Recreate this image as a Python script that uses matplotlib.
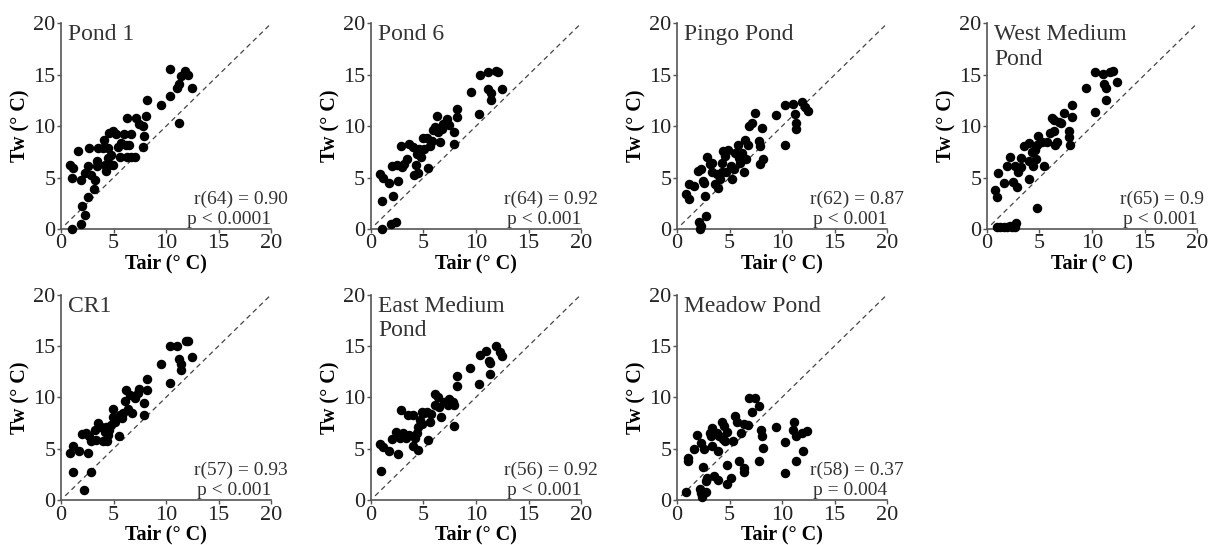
import matplotlib.pyplot as plt

plt.rcParams['font.family'] = ['Liberation Serif', 'DejaVu Serif']

# Pond 1
pond1_tair = [1.0, 1.95, 2.26, 2.0, 2.6, 3.1, 0.85, 1.1, 1.0, 1.6, 1.9, 2.26, 2.6, 2.7, 2.9,
              3.2, 3.4, 3.4, 3.5, 4.0, 4.1, 4.2, 4.3, 4.5, 4.5, 4.6, 4.6, 4.8, 4.9, 4.9,
              5.2, 5.4, 5.6, 5.7, 6.0, 6.2, 6.3, 6.3, 6.5, 6.7, 6.7, 7.0, 7.1, 7.4, 7.8,
              7.8, 7.9, 8.1, 8.2, 9.5, 10.4, 10.4, 11.05, 11.2, 11.2, 11.4, 11.8, 12.1, 12.5]
pond1_tw = [0.0, 0.5, 1.4, 2.2, 3.1, 3.9, 6.2, 5.9, 5.0, 7.6, 4.75, 5.4, 6.1, 7.9, 5.25,
            4.75, 6.1, 6.6, 7.9, 7.9, 8.7, 6.2, 5.6, 7.9, 6.9, 6.2, 9.3, 7.2, 9.5, 6.2,
            9.2, 8.0, 7.0, 8.4, 9.2, 8.2, 7.0, 10.8, 8.2, 7.0, 9.2, 7.0, 10.8, 10.2, 10.0,
            8.0, 9.0, 11.0, 12.5, 12.1, 12.9, 15.6, 13.7, 14.1, 10.3, 14.9, 15.4, 15.0, 13.7]

# Pond 6
pond6_tair = [1.07, 1.95, 2.37, 1.07, 2.14, 0.9, 1.2, 1.7, 2.0, 2.6, 2.5, 2.85, 3.0, 3.2, 3.4,
              3.6, 4.0, 4.15, 4.3, 4.4, 4.5, 4.6, 4.8, 5.0, 5.1, 5.3, 5.45, 5.6, 5.8, 5.9,
              6.1, 6.25, 6.4, 6.6, 6.75, 6.9, 7.2, 7.4, 7.9, 7.9, 8.2, 8.2, 9.5, 10.3, 10.4,
              11.1, 11.1, 11.4, 11.4, 11.9, 12.1, 12.5]
pond6_tw = [0.0, 0.5, 0.65, 2.75, 3.25, 5.35, 5.0, 4.45, 6.1, 4.7, 6.2, 8.1, 6.0, 6.35, 6.8,
            8.3, 7.95, 5.2, 6.2, 7.3, 5.4, 7.8, 7.0, 8.8, 7.8, 8.8, 5.9, 8.1, 8.6, 9.6,
            9.9, 11.0, 9.4, 8.45, 9.75, 10.25, 10.7, 10.1, 9.4, 8.3, 11.7, 10.9, 13.3, 11.2, 15.0,
            15.3, 13.6, 13.2, 12.5, 15.35, 15.3, 13.6]

# Pingo Pond
pingo_tair = [2.16, 2.06, 2.3, 2.8, 0.87, 1.1, 1.1, 1.6, 2.0, 2.26, 2.5, 2.6, 2.7, 2.9, 3.1,
              3.3, 3.35, 3.6, 3.8, 3.9, 4.1, 4.3, 4.3, 4.4, 4.6, 4.7, 4.9, 5.1, 5.2, 5.4,
              5.55, 5.8, 5.9, 6.0, 6.2, 6.35, 6.45, 6.6, 6.8, 6.9, 7.1, 7.4, 7.8, 7.9, 7.9,
              8.1, 8.2, 9.4, 10.3, 10.3, 11.0, 11.2, 11.35, 11.35, 11.9, 12.15, 12.5]
pingo_tw = [0.0, 0.65, 0.3, 1.3, 3.4, 2.9, 4.35, 4.2, 5.65, 5.8, 4.7, 4.5, 3.2, 7.0, 6.3,
            5.5, 6.45, 4.35, 5.3, 4.0, 4.85, 5.5, 6.45, 7.55, 7.1, 5.5, 7.7, 6.1, 4.85, 5.8,
            7.4, 8.2, 6.9, 6.45, 7.4, 5.5, 8.7, 6.8, 8.2, 10.0, 10.3, 11.3, 8.55, 8.1, 6.3,
            9.8, 6.8, 11.1, 12.1, 8.2, 12.2, 11.2, 10.3, 9.7, 12.4, 11.9, 11.45]

# West Medium Pond
west_tair = [0.95, 1.27, 1.6, 1.9, 2.2, 2.4, 2.7, 2.8, 0.8, 1.0, 1.05, 1.6, 1.9, 2.2, 2.5,
             2.7, 2.9, 3.0, 3.2, 3.2, 3.5, 4.0, 4.0, 4.0, 4.3, 4.4, 4.6, 4.7, 4.75, 4.75,
             4.85, 5.2, 5.4, 5.7, 6.0, 6.2, 6.35, 6.4, 6.5, 6.7, 6.9, 7.0, 7.3, 7.8, 7.8,
             7.9, 8.1, 8.1, 9.4, 10.3, 10.3, 11.0, 11.1, 11.3, 11.3, 11.75, 12.0, 12.4]
west_tw = [0.2, 0.2, 0.15, 0.2, 0.3, 0.15, 0.2, 0.55, 3.75, 3.1, 5.4, 4.5, 6.1, 7.0, 4.55,
           6.1, 4.05, 5.5, 6.95, 6.0, 8.05, 4.85, 6.6, 8.4, 7.45, 6.1, 7.7, 6.8, 8.2, 2.0,
           9.0, 8.5, 6.1, 8.5, 9.3, 10.8, 10.6, 9.5, 8.2, 8.5, 10.4, 10.3, 11.3, 9.5, 8.9,
           8.2, 10.9, 12.1, 13.7, 11.4, 15.3, 15.1, 14.1, 13.7, 12.5, 15.3, 15.4, 14.3]

# CR1
cr1_tair = [2.2, 1.15, 2.85, 0.9, 1.15, 1.7, 2.6, 2.0, 2.4, 2.7, 2.85, 3.2, 3.3, 3.5, 3.8,
            4.0, 4.2, 4.3, 4.4, 4.5, 4.6, 4.8, 4.95, 4.95, 5.1, 5.5, 5.5, 5.6, 5.8, 5.9,
            6.1, 6.2, 6.4, 6.6, 6.8, 7.0, 7.3, 7.4, 7.9, 7.9, 8.2, 8.2, 9.5, 10.4, 10.4,
            11.05, 11.2, 11.4, 11.4, 11.9, 12.1, 12.5]
cr1_tw = [1.0, 2.75, 2.75, 4.6, 5.3, 4.8, 4.6, 6.4, 6.5, 6.2, 5.7, 6.8, 5.85, 7.5, 7.15,
          5.7, 6.6, 7.15, 5.7, 6.3, 6.8, 7.3, 8.1, 8.9, 7.6, 8.1, 6.2, 8.3, 7.95, 8.45,
          9.6, 10.7, 8.9, 10.2, 8.45, 9.9, 10.4, 10.8, 9.45, 8.3, 11.8, 10.7, 13.2, 11.4, 15.0,
          15.0, 13.7, 13.2, 12.7, 15.45, 15.45, 13.9]

# East Medium Pond
east_tair = [1.0, 0.9, 1.2, 1.7, 2.0, 2.6, 2.4, 2.75, 2.85, 3.1, 3.3, 3.5, 3.6, 4.0, 4.0,
             4.2, 4.4, 4.5, 4.5, 4.7, 4.85, 4.85, 5.1, 5.3, 5.6, 5.4, 5.75, 6.1, 6.15, 6.4,
             6.5, 6.7, 6.95, 7.3, 7.4, 7.8, 7.9, 7.9, 8.15, 8.15, 9.4, 10.3, 10.35, 11.0, 11.2,
             11.3, 11.3, 11.9, 12.3, 12.5]
east_tw = [2.8, 5.45, 5.2, 4.75, 5.9, 4.5, 6.6, 6.0, 8.8, 6.5, 6.0, 8.25, 6.3, 8.25, 5.3,
           6.0, 6.5, 4.85, 7.1, 7.8, 8.6, 7.4, 8.5, 8.6, 7.6, 5.8, 8.4, 10.3, 9.2, 10.0,
           9.05, 8.1, 9.5, 9.2, 9.85, 9.5, 9.2, 7.2, 12.05, 11.1, 12.8, 11.3, 14.15, 14.5, 13.5,
           13.3, 12.3, 14.95, 14.4, 14.0]

# Meadow Pond
meadow_tair = [0.85, 1.07, 1.07, 1.6, 1.95, 2.15, 2.3, 2.3, 2.35, 2.5, 2.6, 2.8, 2.8, 2.9, 3.1,
               3.2, 3.35, 3.35, 3.5, 3.8, 3.9, 3.9, 4.0, 4.3, 4.4, 4.5, 4.6, 4.75, 4.8, 4.8,
               5.1, 5.3, 5.5, 5.7, 5.95, 6.1, 6.35, 6.4, 6.4, 6.75, 6.9, 7.15, 7.4, 7.8, 7.8,
               7.95, 8.1, 8.2, 9.4, 10.3, 10.25, 11.1, 11.0, 11.35, 11.35, 11.9, 12.0, 12.4]
meadow_tw = [0.8, 3.8, 4.05, 4.95, 6.35, 1.05, 5.5, 0.65, 0.3, 3.25, 4.95, 0.8, 1.8, 2.1, 6.5,
             6.2, 7.0, 5.3, 2.3, 6.5, 1.95, 4.8, 6.2, 7.6, 5.9, 7.2, 5.7, 1.6, 3.4, 6.6,
             2.1, 5.7, 8.2, 7.6, 3.75, 6.5, 7.4, 3.1, 2.75, 7.3, 9.9, 8.6, 9.9, 9.1, 3.8,
             6.85, 6.25, 5.05, 7.1, 5.6, 2.6, 7.6, 6.85, 6.2, 3.75, 6.5, 4.8, 6.75]

titles = ['Pond 1', 'Pond 6', 'Pingo Pond', 'West Medium\nPond',
          'CR1', 'East Medium\nPond', 'Meadow Pond']
r_labels = ['r(64) = 0.90', 'r(64) = 0.92', 'r(62) = 0.87', 'r(65) = 0.9',
            'r(57) = 0.93', 'r(56) = 0.92', 'r(58) = 0.37']
p_labels = ['p < 0.0001', 'p < 0.001', 'p < 0.001', 'p < 0.001',
            'p < 0.001', 'p < 0.001', 'p = 0.004']
tair_all = [pond1_tair, pond6_tair, pingo_tair, west_tair, cr1_tair, east_tair, meadow_tair]
tw_all = [pond1_tw, pond6_tw, pingo_tw, west_tw, cr1_tw, east_tw, meadow_tw]
ticks = [0, 5, 10, 15, 20]

fig = plt.figure(figsize=(12.08, 5.45), dpi=100)

lefts = [0.0505, 0.307, 0.5604, 0.817]
bottoms = [0.58, 0.0826]
w, h = 0.174, 0.377
# right edge of the r(...) text, data units (last column sits at the figure edge)
r_right = [21.6, 21.6, 21.6, 20.7, 21.6, 21.6, 21.6]

for i in range(7):
    ax = fig.add_axes([lefts[i % 4], bottoms[i // 4], w, h])
    ax.plot([0.4, 19.8], [0.4, 19.8], ls=(0, (4, 3)), color='#444444', lw=0.9)
    ax.scatter(tair_all[i], tw_all[i], s=34, color='black', zorder=3, clip_on=False)
    ax.set_xlim(0, 20)
    ax.set_ylim(0, 20)
    ax.set_xticks(ticks)
    ax.set_yticks(ticks)
    for s in ['top', 'right']:
        ax.spines[s].set_visible(False)
    for s in ['left', 'bottom']:
        ax.spines[s].set_color('#555555')
        ax.spines[s].set_linewidth(1.2)
    ax.tick_params(direction='out', length=3, width=1, color='#555555',
                   labelsize=16, labelcolor='#222222', pad=1)
    ax.set_xlabel('Tair (° C)', fontsize=14.5, fontweight='bold', labelpad=0)
    ax.set_ylabel('Tw (° C)', fontsize=14.5, fontweight='bold', labelpad=2)
    ax.text(0.7, 19.9, titles[i], fontsize=17, color='#333333', va='top', ha='left',
            linespacing=1.2)
    ax.text(r_right[i], 2.9, r_labels[i], fontsize=14, color='#333333', ha='right',
            va='center', clip_on=False)
    ax.text(20.0, 0.9, p_labels[i], fontsize=14, color='#333333', ha='right', va='center',
            clip_on=False)

fig.savefig('out.png', dpi=100)
